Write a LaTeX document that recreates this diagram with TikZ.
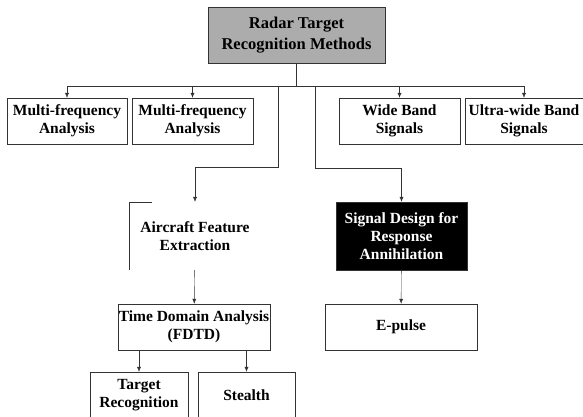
\documentclass[tikz,border=0pt]{standalone}
\usepackage{fontspec}
\setmainfont{Liberation Serif}
\usetikzlibrary{arrows.meta}
\tikzset{
	>={Latex[length=5pt,width=4pt]},
	box/.style={draw=black!80, thin, align=center, inner sep=0pt, font=\fontsize{15.5}{18}\selectfont\bfseries},
	link/.style={draw=black!80, thin}
}
\begin{document}
\begin{tikzpicture}[x=1pt,y=-1pt]
	\clip (0,0) rectangle (583,416);
	\fill[white] (0,0) rectangle (583,416);

	\node 	(top)		at	(296.5,35) 	[box, fill=gray!65, minimum width=177, minimum height=56, font=\fontsize{16.5}{21}\selectfont\bfseries]{Radar Target\\Recognition Methods};

	\node 	(mf1)		at	(67,121) 	[box, minimum width=120, minimum height=46]{Multi-frequency\\Analysis};
	\node 	(mf2)		at	(192.5,121) 	[box, minimum width=121, minimum height=46]{Multi-frequency\\Analysis};
	\node 	(wide)		at	(399.5,121) 	[box, minimum width=121, minimum height=46]{Wide Band\\Signals};
	\node 	(ultra)		at	(524,121) 	[box, minimum width=118, minimum height=46]{Ultra-wide Band\\Signals};

	\node 	(air)		at	(195,236) 	[box, draw=none, minimum width=132, minimum height=68]{Aircraft Feature\\Extraction};
	\node 	(sig)		at	(401.5,236) 	[box, fill=black, text=white, minimum width=131, minimum height=68]{Signal Design for\\Response\\Annihilation};

	\node 	(tda)		at	(194,327) 	[box, minimum width=152, minimum height=46]{Time Domain Analysis\\(FDTD)};
	\node 	(epulse)	at	(401,327) 	[box, minimum width=152, minimum height=46]{E-pulse};

	\node 	(target)	at	(139,395) 	[box, minimum width=98, minimum height=46]{Target\\Recognition};
	\node 	(stealth)	at	(246.5,395) 	[box, minimum width=97, minimum height=46]{Stealth};

	% partial frame of the aircraft box
	\draw[link] (air.north west) ++(23,0) -- (air.north west) -- (air.south west);

	% bus below the top box
	\coordinate (bus) at (296.5,86);
	\coordinate (bl) at (278,86);
	\coordinate (br) at (315,86);
	\draw[link] (top) -- (bus);
	\draw[link] (mf1.north |- bus) -- (ultra.north |- bus);
	\draw[link,->] (mf1.north |- bus) -- (mf1);
	\draw[link,->] (mf2.north |- bus) -- (mf2);
	\draw[link,->] (wide.north |- bus) -- (wide);
	\draw[link,->] (ultra.north |- bus) -- (ultra);

	\draw[link,->] (bl) -- ++(0,81) -| (air.north);
	\draw[link,->] (br) -- ++(0,82) -| (sig.north);

	\draw[link,->] (air) -- (tda);
	\draw[link,->] (sig) -- (epulse);
	\draw[link,->] (tda.south -| target) -- (target);
	\draw[link,->] (tda.south -| stealth) -- (stealth);

\end{tikzpicture}
\end{document}
